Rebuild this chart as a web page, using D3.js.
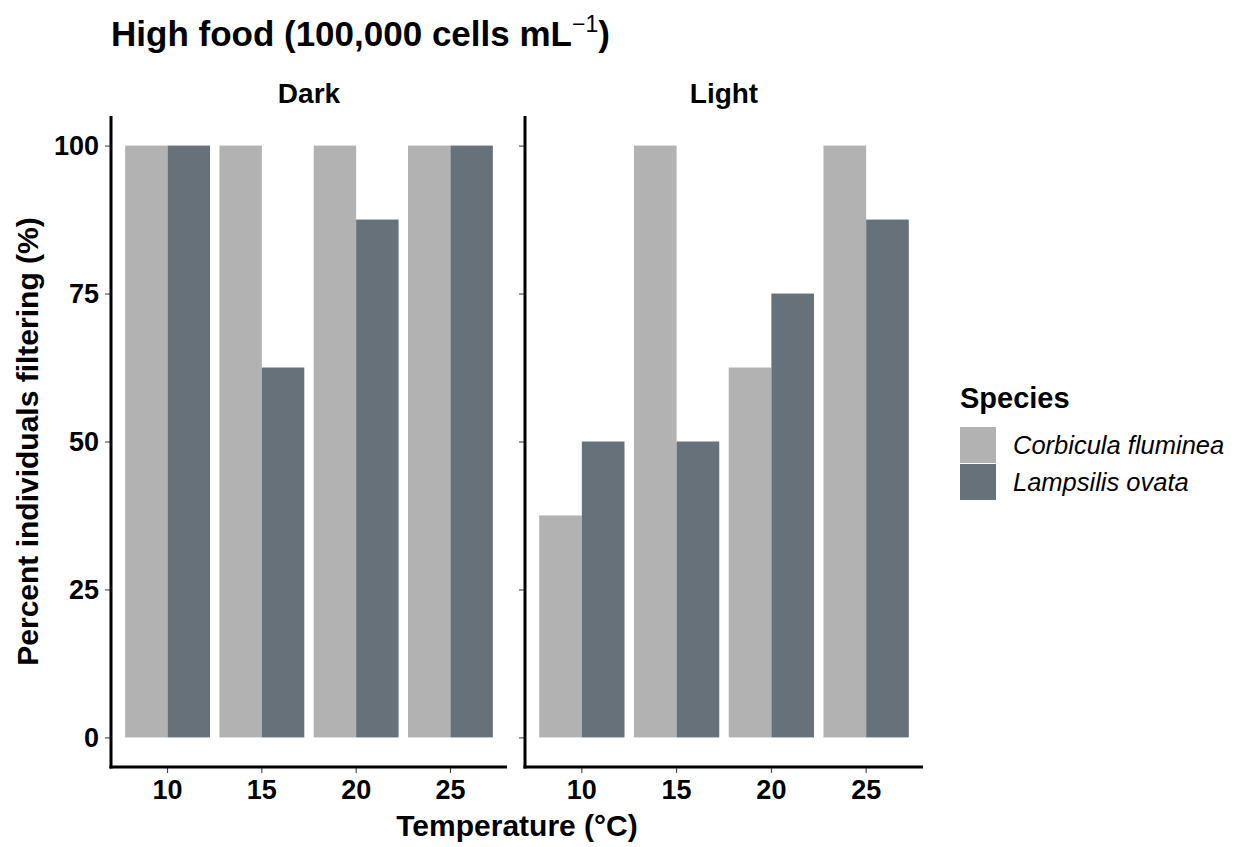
<!DOCTYPE html>
<html>
<head>
<script src="https://cdnjs.cloudflare.com/ajax/libs/d3/7.8.5/d3.min.js"></script>
<style>
  body { margin: 0; background: white; }
  text { font-family: "Liberation Sans", Arial, sans-serif; }
</style>
</head>
<body>
<svg id="chart" width="1241" height="847"></svg>
<script>
// data
const temps = ["10", "15", "20", "25"];
const species = ["Corbicula fluminea", "Lampsilis ovata"];
const panels = ["Dark", "Light"];
const darkCorbicula = [100, 100, 100, 100];
const darkLampsilis = [100, 62.5, 87.5, 100];
const lightCorbicula = [37.5, 100, 62.5, 100];
const lightLampsilis = [50, 50, 75, 87.5];
const yTicks = [0, 25, 50, 75, 100];
const colors = ["#b2b2b2", "#67717a"];

const panelData = {
    Dark: [darkCorbicula, darkLampsilis],
    Light: [lightCorbicula, lightLampsilis]
};

const svg = d3.select('#chart');
const panelX = { Dark: [111, 507], Light: [525, 923] };
const yTop = 116, yBottom = 767;
const fontFam = '"Liberation Sans", Arial, sans-serif';

// y scale with ggplot-like 5% expansion
const y = d3.scaleLinear().domain([-5, 105]).range([yBottom, yTop]);

// title
const title = svg.append('text')
    .attr('x', 111).attr('y', 46)
    .attr('font-size', 35).attr('font-weight', 'bold');
title.append('tspan').text('High food (100,000 cells mL');
title.append('tspan').attr('dy', -14).attr('font-size', 23).attr('font-weight', 'normal').text('\u22121');
title.append('tspan').attr('dy', 14).text(')');

panels.forEach((p, pi) => {
    const [x0, x1] = panelX[p];
    // band scale with 0.6 unit expansion on each side
    const unit = (x1 - x0) / 4.2;
    const x = d3.scaleBand().domain(temps)
        .range([x0 + 0.1 * unit, x1 - 0.1 * unit])
        .paddingInner(0.1).paddingOuter(0.05);
    const xs = d3.scaleBand().domain(species).range([0, x.bandwidth()]);

    const g = svg.append('g');

    // facet strip label
    g.append('text')
        .attr('x', (x0 + x1) / 2).attr('y', 103)
        .attr('text-anchor', 'middle')
        .attr('font-size', 28).attr('font-weight', 'bold')
        .text(p);

    // bars
    species.forEach((s, si) => {
        g.selectAll(null)
            .data(panelData[p][si])
            .join('rect')
            .attr('x', (d, i) => x(temps[i]) + xs(s))
            .attr('width', xs.bandwidth())
            .attr('y', d => y(d))
            .attr('height', d => y(0) - y(d))
            .attr('fill', colors[si]);
    });

    // y axis
    const yAxis = g.append('g')
        .attr('transform', `translate(${x0},0)`)
        .call(d3.axisLeft(y).tickValues(yTicks).tickSize(6).tickPadding(6)
            .tickFormat(pi === 0 ? d3.format('d') : ''));
    yAxis.select('.domain').remove();
    yAxis.selectAll('.tick line').attr('stroke', '#333').attr('stroke-width', 1);
    yAxis.selectAll('text').attr('font-size', 27).attr('font-weight', 'bold')
        .attr('fill', 'black').attr('font-family', fontFam);
    g.append('line')
        .attr('x1', x0).attr('x2', x0).attr('y1', yTop).attr('y2', yBottom + 1.5)
        .attr('stroke', 'black').attr('stroke-width', 3);

    // x axis
    const xAxis = g.append('g')
        .attr('transform', `translate(0,${yBottom})`)
        .call(d3.axisBottom(x).tickSize(6).tickPadding(7));
    xAxis.select('.domain').remove();
    xAxis.selectAll('.tick line').attr('stroke', '#333').attr('stroke-width', 1);
    xAxis.selectAll('text').attr('font-size', 27).attr('font-weight', 'bold')
        .attr('fill', 'black').attr('font-family', fontFam);
    g.append('line')
        .attr('x1', x0 - 1.5).attr('x2', x1).attr('y1', yBottom).attr('y2', yBottom)
        .attr('stroke', 'black').attr('stroke-width', 3);
});

// axis titles
svg.append('text')
    .attr('x', 517).attr('y', 836)
    .attr('text-anchor', 'middle')
    .attr('font-size', 30).attr('font-weight', 'bold')
    .text('Temperature (\u00b0C)');

svg.append('text')
    .attr('transform', `translate(38,${(yTop + yBottom) / 2}) rotate(-90)`)
    .attr('text-anchor', 'middle')
    .attr('font-size', 30).attr('font-weight', 'bold')
    .text('Percent individuals filtering (%)');

// legend
const legend = svg.append('g').attr('transform', 'translate(960,0)');
legend.append('text')
    .attr('x', 0).attr('y', 408)
    .attr('font-size', 29).attr('font-weight', 'bold')
    .text('Species');
species.forEach((s, i) => {
    legend.append('rect')
        .attr('x', 0).attr('y', 427 + i * 37)
        .attr('width', 36).attr('height', 36)
        .attr('fill', colors[i]);
    legend.append('text')
        .attr('x', 53).attr('y', 445 + i * 37)
        .attr('dy', '0.35em')
        .attr('font-size', 25.5).attr('font-style', 'italic')
        .text(s);
});
</script>
</body>
</html>
